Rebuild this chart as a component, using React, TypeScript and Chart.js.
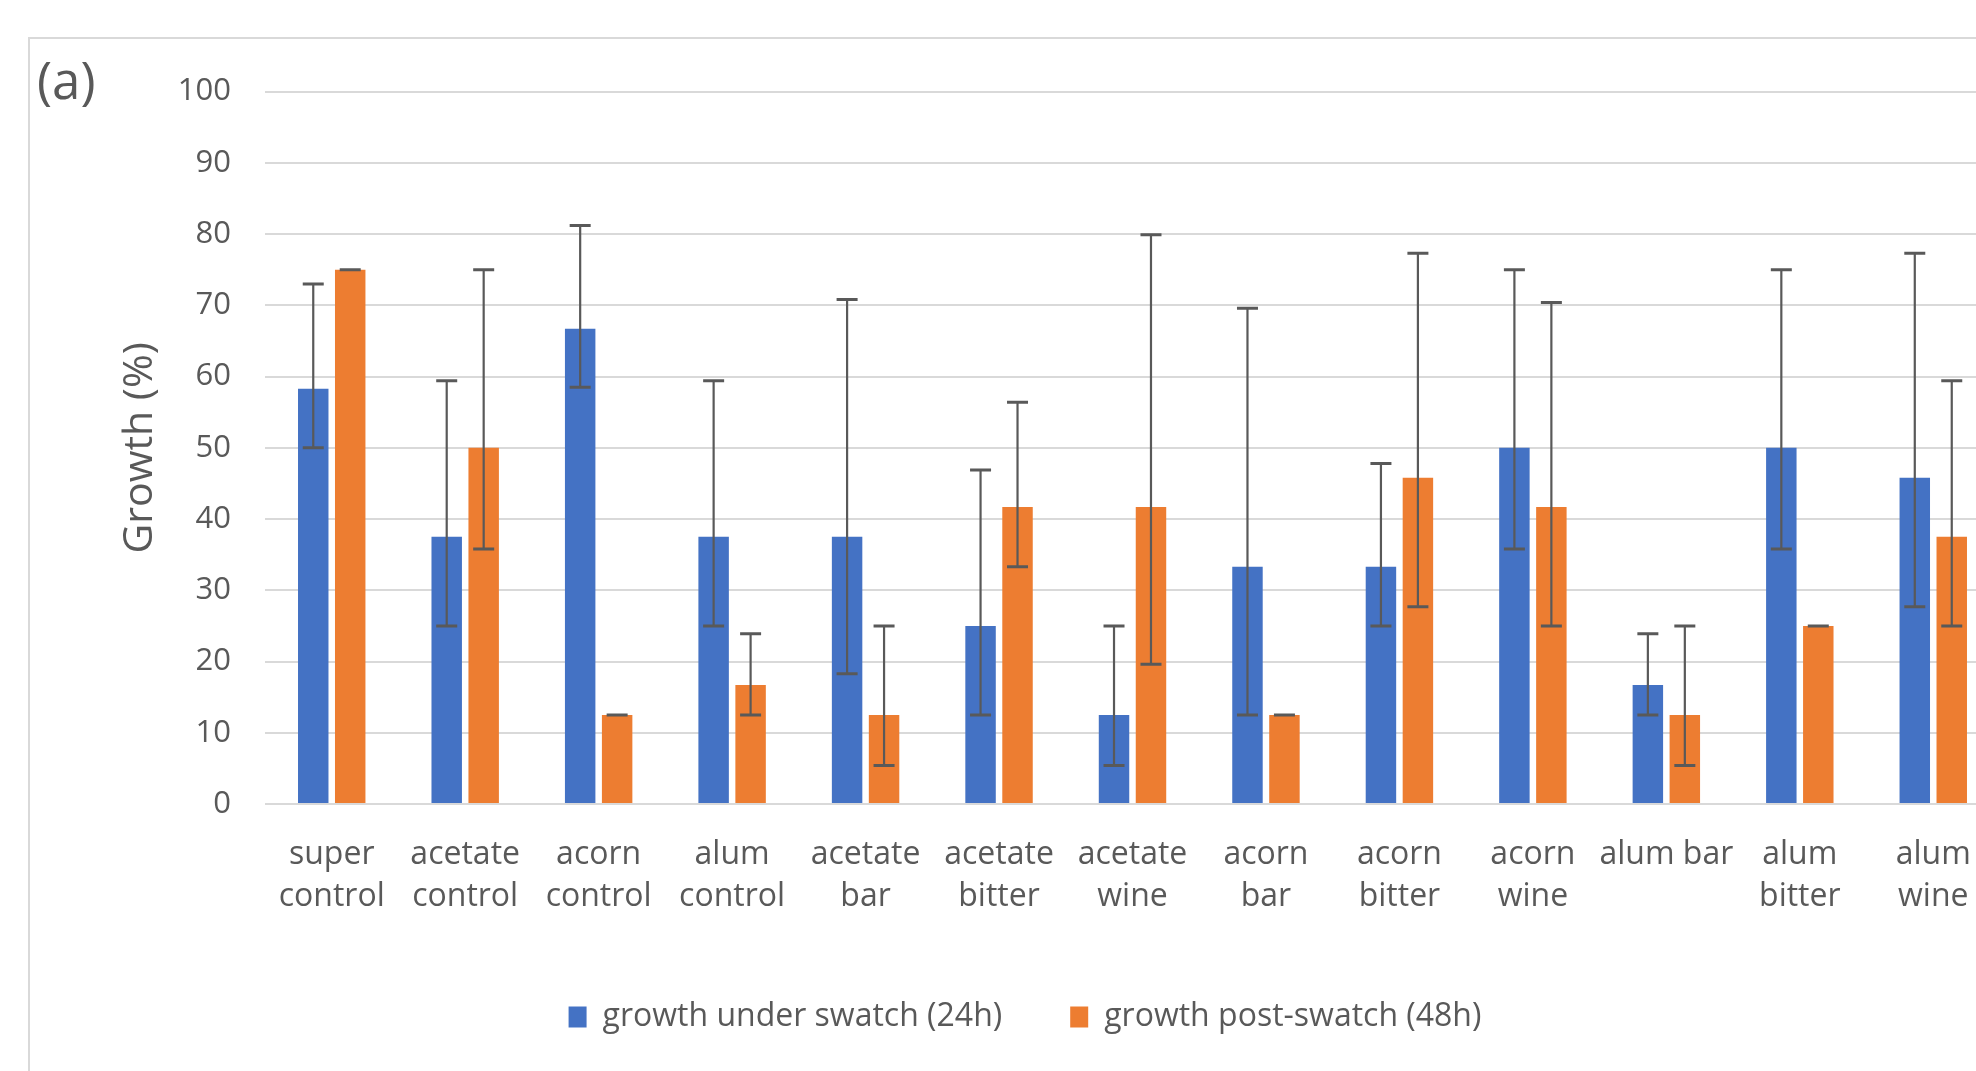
import React, { useEffect, useRef } from 'react';
import { Chart, registerables } from 'chart.js';

Chart.register(...registerables);

const categories: (string | string[])[] = [
  ['super', 'control'],
  ['acetate', 'control'],
  ['acorn', 'control'],
  ['alum', 'control'],
  ['acetate', 'bar'],
  ['acetate', 'bitter'],
  ['acetate', 'wine'],
  ['acorn', 'bar'],
  ['acorn', 'bitter'],
  ['acorn', 'wine'],
  'alum bar',
  ['alum', 'bitter'],
  ['alum', 'wine'],
];

const seriesNames = ['growth under swatch (24h)', 'growth post-swatch (48h)'];

const growth24 = [58.3, 37.5, 66.7, 37.5, 37.5, 25, 12.5, 33.3, 33.3, 50, 16.7, 50, 45.8];
const growth48 = [75, 50, 12.5, 16.7, 12.5, 41.7, 41.7, 12.5, 45.8, 41.7, 12.5, 25, 37.5];

const err24Low = [50, 25, 58.5, 25, 18.3, 12.5, 5.4, 12.5, 25, 35.8, 12.5, 35.8, 27.7];
const err24High = [73, 59.4, 81.2, 59.4, 70.8, 46.9, 25, 69.6, 47.8, 75, 23.9, 75, 77.3];
const err48Low = [75, 35.8, 12.5, 12.5, 5.4, 33.3, 19.6, 12.5, 27.7, 25, 5.4, 25, 25];
const err48High = [75, 75, 12.5, 23.9, 25, 56.4, 79.9, 12.5, 77.3, 70.4, 25, 25, 59.4];

const yMin = 0;
const yMax = 100;
const yStep = 10;

const panelLabel = '(a)';
const yTitle = 'Growth (%)';

const FONT = "'Open Sans', sans-serif";
const TEXT = '#595959';
const GRID = '#d9d9d9';
const BLUE = '#4472C4';
const ORANGE = '#ED7D31';

const CW = 1991;
const CH = 1040;

export default function App() {
  const ref = useRef<HTMLCanvasElement>(null);

  useEffect(() => {
    if (!ref.current) return;

    const errorBars = {
      id: 'errorBars',
      afterDatasetsDraw(chart: any) {
        const ctx = chart.ctx;
        const ys = chart.scales.y;
        const sets = [
          [err24Low, err24High],
          [err48Low, err48High],
        ];
        ctx.save();
        ctx.strokeStyle = '#595959';
        sets.forEach((s, di) => {
          const meta = chart.getDatasetMeta(di);
          meta.data.forEach((el: any, j: number) => {
            const x = el.x;
            const yl = ys.getPixelForValue(s[0][j]);
            const yh = ys.getPixelForValue(s[1][j]);
            ctx.lineWidth = 2.2;
            ctx.beginPath();
            ctx.moveTo(x, yl);
            ctx.lineTo(x, yh);
            ctx.stroke();
            ctx.lineWidth = 3;
            ctx.beginPath();
            ctx.moveTo(x - 10.5, yh);
            ctx.lineTo(x + 10.5, yh);
            ctx.moveTo(x - 10.5, yl);
            ctx.lineTo(x + 10.5, yl);
            ctx.stroke();
          });
        });
        ctx.restore();
      },
    };

    const panel = {
      id: 'panelLabel',
      afterDraw(chart: any) {
        const ctx = chart.ctx;
        ctx.save();
        ctx.fillStyle = TEXT;
        ctx.font = `51px ${FONT}`;
        ctx.textBaseline = 'alphabetic';
        ctx.textAlign = 'left';
        ctx.fillText(panelLabel, 7, 60);
        ctx.restore();
      },
    };

    const chart = new Chart(ref.current, {
      type: 'bar',
      data: {
        labels: categories,
        datasets: [
          {
            label: seriesNames[0],
            data: growth24,
            backgroundColor: BLUE,
            categoryPercentage: 0.554,
            barPercentage: 0.824,
          },
          {
            label: seriesNames[1],
            data: growth48,
            backgroundColor: ORANGE,
            categoryPercentage: 0.554,
            barPercentage: 0.824,
          },
        ],
      },
      options: {
        responsive: false,
        animation: false,
        devicePixelRatio: 1,
        layout: { padding: { left: 20, right: 21, top: 52, bottom: 36 } },
        plugins: {
          tooltip: { enabled: false },
          legend: {
            position: 'bottom',
            labels: {
              color: TEXT,
              font: { family: FONT, size: 32 },
              boxWidth: 18,
              boxHeight: 21,
              padding: 68,
            },
          },
        },
        scales: {
          x: {
            grid: { display: false, drawTicks: false },
            border: { display: false },
            ticks: {
              color: TEXT,
              font: { family: FONT, size: 32, lineHeight: 1.3 },
              padding: 30,
              maxRotation: 0,
              autoSkip: false,
            },
            afterFit: (scale: any) => {
              scale.height = 129;
            },
          },
          y: {
            min: yMin,
            max: yMax,
            grid: { color: GRID, lineWidth: 2, drawTicks: false },
            border: { display: false },
            ticks: {
              stepSize: yStep,
              color: TEXT,
              font: { family: FONT, size: 31 },
              padding: 34,
            },
            title: {
              display: true,
              text: yTitle,
              color: TEXT,
              font: { family: FONT, size: 41 },
              padding: { top: 66, bottom: 0 },
            },
            afterFit: (scale: any) => {
              scale.width = 215;
            },
          },
        },
      },
      plugins: [errorBars, panel],
    });

    return () => chart.destroy();
  }, []);

  return (
    <div
      style={{
        position: 'fixed',
        left: 0,
        top: 0,
        width: 1976,
        height: 1071,
        overflow: 'hidden',
        background: '#ffffff',
      }}
    >
      <div
        style={{
          position: 'absolute',
          left: 28,
          top: 37,
          width: 2100,
          height: 1100,
          borderLeft: `2px solid ${GRID}`,
          borderTop: `2px solid ${GRID}`,
        }}
      />
      <canvas
        ref={ref}
        width={CW}
        height={CH}
        style={{ position: 'absolute', left: 30, top: 39, width: CW, height: CH }}
      />
    </div>
  );
}
